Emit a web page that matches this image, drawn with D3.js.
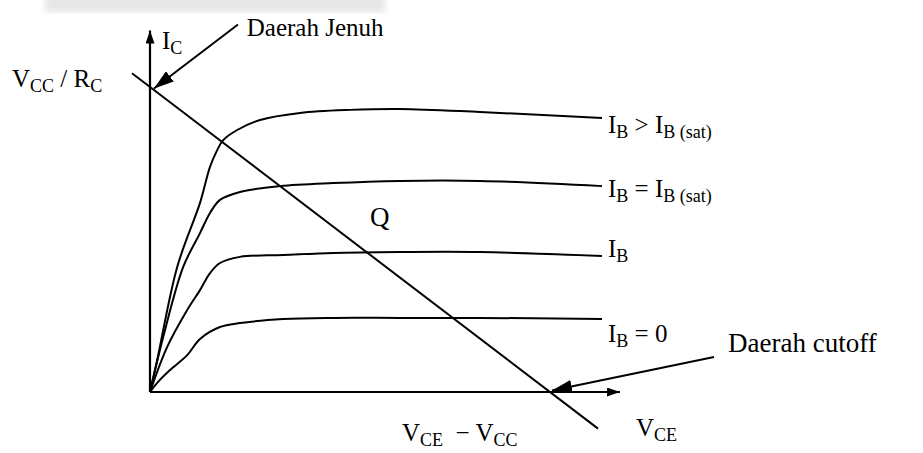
<!DOCTYPE html>
<html>
<head>
<meta charset="utf-8">
<script src="https://cdn.jsdelivr.net/npm/d3@7"></script>
<style>
  body { margin: 0; background: #fff; }
  svg { display: block; font-family: "Liberation Serif", "Times New Roman", serif; }
</style>
</head>
<body>
<svg id="chart" width="923" height="453"></svg>
<script>
// karakteristik output transistor: V_CE (V) vs I_C (mA)
const vcc = 10;        // V_CC
const icMax = 10;      // V_CC / R_C
const axisMaxX = 11.75;
const axisMaxY = 11.85;

// kurva I_B  [V_CE, I_C]
const curveSat2 = [[0,0],[0.18,1.05],[0.68,4.1],[1.25,6.2],[1.5,7.38],[1.68,7.93],[1.83,8.26],[2.18,8.59],[2.75,8.92],[3.75,9.15],[5,9.25],[6.25,9.28],[8.25,9.18],[11.3,8.98]];
const curveSat  = [[0,0],[0.33,1.8],[0.83,4.1],[1.25,5.21],[1.5,5.87],[1.75,6.3],[2.25,6.56],[3.25,6.75],[4.58,6.85],[6.25,6.92],[8.25,6.92],[11.3,6.75]];
const curveIb   = [[0,0],[0.43,1.48],[0.93,2.69],[1.25,3.34],[1.5,3.9],[1.75,4.23],[2.25,4.43],[3.33,4.49],[4.58,4.56],[6.25,4.59],[8.25,4.59],[11.3,4.46]];
const curveIb0  = [[0,0],[0.18,0.3],[0.5,0.72],[0.93,1.21],[1.25,1.74],[1.75,2.13],[2.25,2.26],[3.33,2.39],[4.58,2.43],[6.25,2.43],[8.25,2.43],[11.3,2.39]];

// label kurva (bagian: [teks, subscript?])
const curveLabels = [
  [["I", 0], ["B", 1], [" > I", 0], ["B (sat)", 1]],
  [["I", 0], ["B", 1], [" = I", 0], ["B (sat)", 1]],
  [["I", 0], ["B", 1]],
  [["I", 0], ["B", 1], [" = 0", 0]]
];
const curveLabelDy = [15, 11, 1, 23];

// garis beban dari V_CE = -0.45 sampai 11.2
const loadLineVce = [-0.45, 11.2];

const svg = d3.select("#chart");
const x = d3.scaleLinear().domain([0, vcc]).range([150, 550]);
const y = d3.scaleLinear().domain([0, icMax]).range([392, 87]);

// sisa watermark samar di atas
const defs = svg.append("defs");
defs.append("filter").attr("id", "blur")
  .append("feGaussianBlur").attr("stdDeviation", 3);
svg.append("rect")
  .attr("x", 45).attr("y", -6).attr("width", 340).attr("height", 18)
  .attr("fill", "#e6e6e6").attr("filter", "url(#blur)");

// marker panah
const addMarker = (id, w, h) => {
  defs.append("marker")
    .attr("id", id)
    .attr("viewBox", `0 0 ${w} ${h}`)
    .attr("refX", w).attr("refY", h / 2)
    .attr("markerWidth", w).attr("markerHeight", h)
    .attr("markerUnits", "userSpaceOnUse")
    .attr("orient", "auto")
    .append("path")
    .attr("d", `M0,0L${w},${h / 2}L0,${h}Z`)
    .attr("fill", "#000");
};
addMarker("arrSmall", 13, 9);
addMarker("arrBig", 20, 13);

// sumbu
svg.append("line")
  .attr("x1", x(0)).attr("y1", y(0))
  .attr("x2", x(0)).attr("y2", y(axisMaxY))
  .attr("stroke", "#000").attr("stroke-width", 2.2)
  .attr("marker-end", "url(#arrSmall)");
svg.append("line")
  .attr("x1", x(0)).attr("y1", y(0))
  .attr("x2", x(axisMaxX)).attr("y2", y(0))
  .attr("stroke", "#000").attr("stroke-width", 2.2)
  .attr("marker-end", "url(#arrSmall)");

// kurva
const line = d3.line()
  .x(d => x(d[0]))
  .y(d => y(d[1]))
  .curve(d3.curveCatmullRom.alpha(0.5));
const curves = [curveSat2, curveSat, curveIb, curveIb0];
svg.selectAll("path.curve")
  .data(curves)
  .join("path")
  .attr("class", "curve")
  .attr("d", line)
  .attr("fill", "none")
  .attr("stroke", "#000")
  .attr("stroke-width", 2);

// garis beban
svg.append("line")
  .attr("x1", x(loadLineVce[0])).attr("y1", y(icMax * (1 - loadLineVce[0] / vcc)))
  .attr("x2", x(loadLineVce[1])).attr("y2", y(icMax * (1 - loadLineVce[1] / vcc)))
  .attr("stroke", "#000").attr("stroke-width", 2);

// panah keterangan
svg.append("line")
  .attr("x1", x(2.2)).attr("y1", y(12.05))
  .attr("x2", x(0.1)).attr("y2", y(icMax - 0.05))
  .attr("stroke", "#000").attr("stroke-width", 2)
  .attr("marker-end", "url(#arrBig)");
svg.append("line")
  .attr("x1", x(14.1)).attr("y1", y(1.15))
  .attr("x2", x(vcc + 0.05)).attr("y2", y(0.05))
  .attr("stroke", "#000").attr("stroke-width", 2)
  .attr("marker-end", "url(#arrBig)");

// teks dengan subscript
const mainSize = 25, subSize = 18;
const drawLabel = (parts, px, py, size) => {
  const t = svg.append("text")
    .attr("x", px).attr("y", py)
    .attr("font-size", size || mainSize)
    .attr("fill", "#000");
  let sub = false;
  parts.forEach(([s, isSub]) => {
    const ts = t.append("tspan").text(s).style("white-space", "pre");
    if (isSub && !sub) ts.attr("dy", 5).attr("font-size", subSize);
    else if (!isSub && sub) ts.attr("dy", -5);
    else if (isSub) ts.attr("font-size", subSize);
    sub = !!isSub;
  });
  return t;
};

curves.forEach((c, i) => {
  const last = c[c.length - 1];
  drawLabel(curveLabels[i], x(last[0]) + 6, y(last[1]) + curveLabelDy[i]);
});

drawLabel([["I", 0], ["C", 1]], x(0) + 12, y(axisMaxY) + 18);
drawLabel([["V", 0], ["CC", 1], [" / R", 0], ["C", 1]], 12, y(icMax));
drawLabel([["Daerah Jenuh", 0]], x(2.42), y(11.67));
drawLabel([["Q", 0]], x(5.5), y(5.45), 27);
drawLabel([["Daerah cutoff", 0]], x(14.45), y(1.3), 27);
drawLabel([["V", 0], ["CE", 1]], x(12.15), y(-1.45));
drawLabel([["V", 0], ["CE", 1], ["  \u2212 V", 0], ["CC", 1]], x(6.3), y(-1.6));
</script>
</body>
</html>
